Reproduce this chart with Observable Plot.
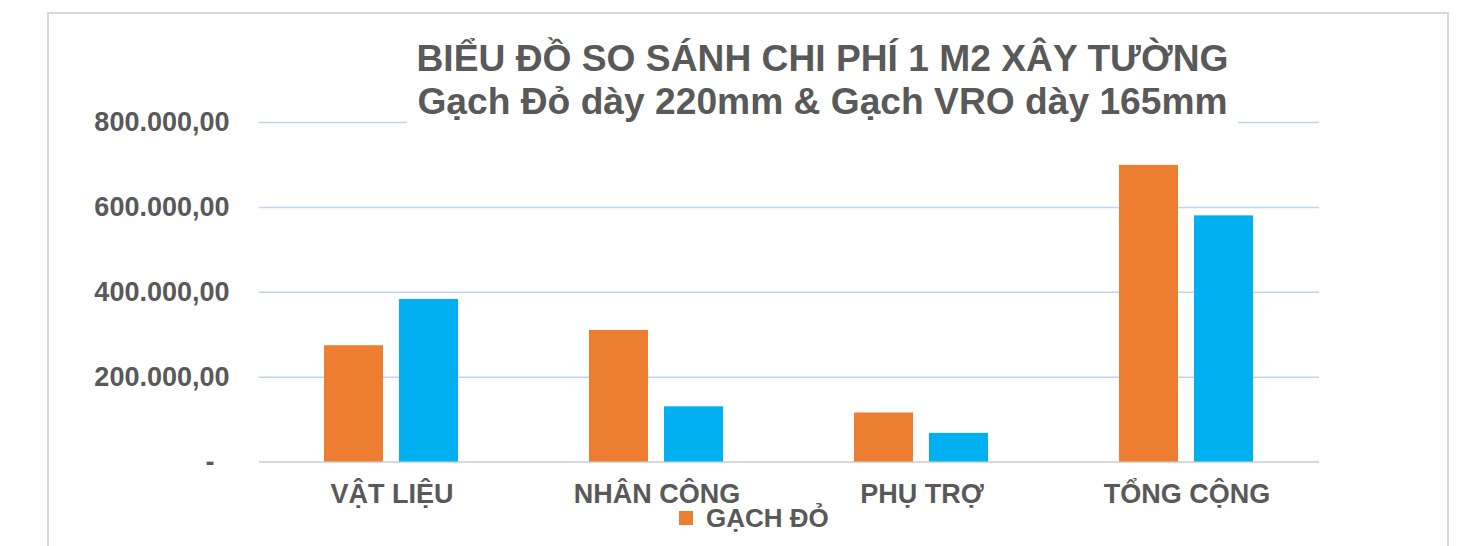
<!DOCTYPE html>
<html><head><meta charset="utf-8">
<script src="https://cdn.jsdelivr.net/npm/d3@7"></script>
<script src="https://cdn.jsdelivr.net/npm/@observablehq/plot@0.6"></script>
<style>
html,body{margin:0;padding:0;background:#fff;overflow:hidden;width:1461px;height:546px;position:relative}
#frame{position:absolute;left:47px;top:12px;width:1402px;height:600px;border:2px solid #d9d9d9;box-sizing:border-box}
#chart{position:absolute;left:0;top:0}
#title{position:absolute;left:407px;width:831px;top:37px;padding-bottom:5px;text-align:center;background:#fff;font:bold 37.2px "Liberation Sans",Arial,sans-serif;color:#595959;line-height:43px;z-index:2;white-space:nowrap}
#legend{position:absolute;left:679px;top:502px;font:bold 26px "Liberation Sans",Arial,sans-serif;color:#595959;z-index:2;line-height:32px}
.item{display:flex;align-items:center;height:32px}
.sw{width:14px;height:14px;margin-right:13px;display:inline-block}
</style></head>
<body>
<div id="frame"></div>
<div id="chart"></div>
<div id="title">BIỂU ĐỒ SO SÁNH CHI PHÍ 1 M2 XÂY TƯỜNG<br>Gạch Đỏ dày 220mm &amp; Gạch VRO dày 165mm</div>
<div id="legend"></div>
<script>
const categories = ["VẬT LIỆU", "NHÂN CÔNG", "PHỤ TRỢ", "TỔNG CỘNG"];
const series = ["GẠCH ĐỎ", "GẠCH VRO"];
const gachDo = [274000, 310000, 115500, 699000];
const gachVro = [383000, 130000, 67500, 580000];
const yTicks = [0, 200000, 400000, 600000, 800000];
const yTickLabels = ["-", "200.000,00", "400.000,00", "600.000,00", "800.000,00"];
const colors = ["#ED7D31", "#00B0F0"];
const legendShown = ["GẠCH ĐỎ"];

const data = categories.flatMap((c, i) => [
  {category: c, series: series[0], value: gachDo[i]},
  {category: c, series: series[1], value: gachVro[i]}
]);

const font = '"Liberation Sans", Arial, sans-serif';
const chart = Plot.plot({
  width: 1461, height: 546,
  marginLeft: 258, marginRight: 141, marginTop: 122, marginBottom: 84.5,
  style: {fontFamily: font, background: "transparent", overflow: "visible"},
  fx: {domain: categories, padding: 0, label: null},
  x: {domain: series, paddingInner: 0.2127, paddingOuter: 0.86, axis: null},
  y: {domain: [0, 800000]},
  color: {domain: series, range: colors},
  marks: [
    Plot.gridY(yTicks.slice(1), {stroke: "#bcd5f5", strokeOpacity: 1, strokeWidth: 1.5}),
    Plot.ruleY([0], {stroke: "#d9d9d9", strokeWidth: 2}),
    Plot.barY(data, {fx: "category", x: "series", y: "value", fill: "series"}),
    Plot.axisY({ticks: yTicks, tickFormat: d => {const l = yTickLabels[yTicks.indexOf(d)]; return d === 0 ? l + "\u00a0\u00a0" : l;},
      tickSize: 0, tickPadding: 30, fontSize: 27, fontWeight: "bold", fill: "#595959", label: null}),
    Plot.axisFx({anchor: "bottom", tickSize: 0, tickPadding: 22, fontSize: 27, fontWeight: "bold", fill: "#595959", label: null})
  ]
});
document.getElementById("chart").appendChild(chart);

const legend = document.getElementById("legend");
legendShown.forEach(s => {
  const i = series.indexOf(s);
  const it = document.createElement("div");
  it.className = "item";
  const sw = document.createElement("span");
  sw.className = "sw";
  sw.style.background = colors[i];
  it.appendChild(sw);
  it.appendChild(document.createTextNode(s));
  legend.appendChild(it);
});
</script>
</body></html>
